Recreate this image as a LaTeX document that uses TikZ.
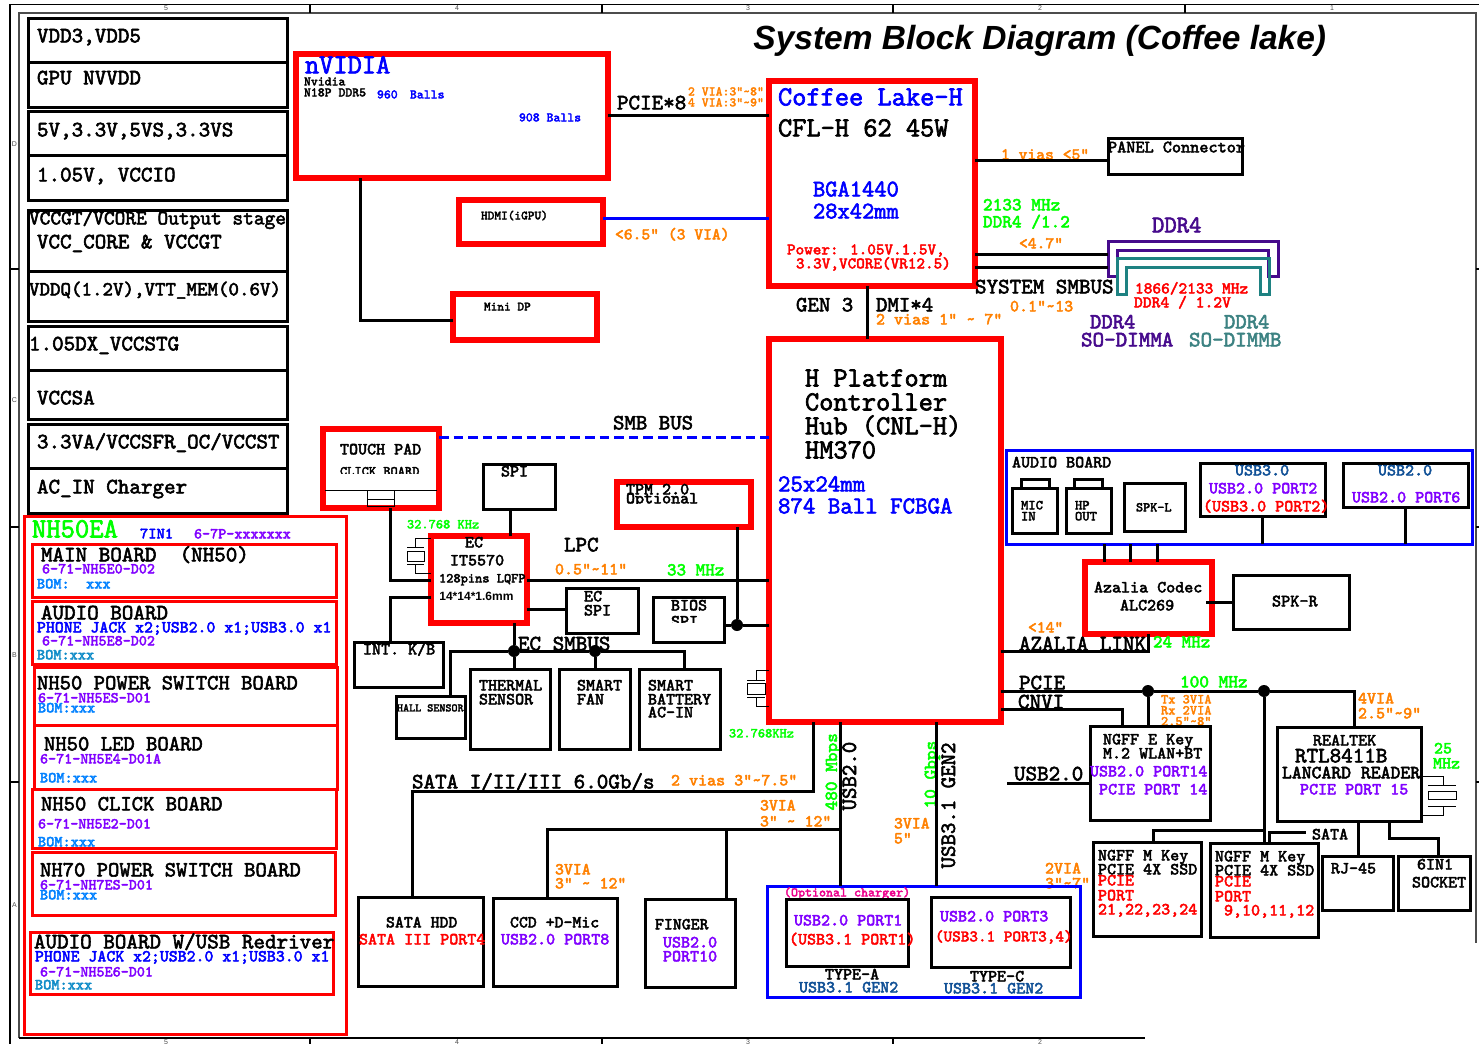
\documentclass[tikz,border=0pt]{standalone}
\usepackage{fontspec}
\setsansfont{Liberation Sans}
\newfontfamily\mb{Latin Modern Mono}[FakeBold=2.5]
\usetikzlibrary{positioning}

\definecolor{cOrange}{RGB}{255,128,0}
\definecolor{cGreen}{RGB}{0,255,0}
\definecolor{cViolet}{RGB}{128,0,255}
\definecolor{cSky}{RGB}{0,128,255}
\definecolor{cBom}{RGB}{16,140,200}
\definecolor{cNavy}{RGB}{16,80,150}
\definecolor{cPurple}{RGB}{70,10,140}
\definecolor{cTeal}{RGB}{30,130,130}
\definecolor{cSoft}{RGB}{60,130,130}

\tikzset{
  lb/.style={anchor=base west,inner sep=0pt,outer sep=0pt,yshift=-0.2pt,font=\mb\fontsize{#1}{#1}\selectfont},
  vlb/.style={lb=#1,rotate=90},
  bx/.style={draw,line width=1.5pt,inner sep=0pt,outer sep=0pt},
  rthick/.style={draw=red,line width=2.8pt,inner sep=0pt,outer sep=0pt},
  rthin/.style={draw=red,line width=1.5pt,inner sep=0pt,outer sep=0pt},
  bgroup/.style={draw=blue,line width=1.5pt,inner sep=0pt,outer sep=0pt},
  wire/.style={line width=1.5pt},
  thinw/.style={line width=0.5pt},
  dot/.style={circle,fill,inner sep=0pt,minimum size=6pt},
}
\newcommand{\blk}[6]{\node[#1,minimum width={(#5-#3)*0.5pt},minimum height={(#6-#4)*0.5pt}] (#2) at ({(#3+#5)/2},{(#4+#6)/2}) {};}
\newcommand{\tld}{\textasciitilde}

\begin{document}
\begin{tikzpicture}[x=0.5pt,y=-0.5pt]
\useasboundingbox (0,0) rectangle (1479,1044);

% frame
\draw[line width=0.6pt] (1479,4.5) -- (10,4.5) -- (10,1044);
\draw[line width=0.6pt,black!70] (19,1038) -- (19,13) -- (1476,13) -- (1476,943);
\draw[line width=0.6pt] (19,1038) -- (1145,1038);
\foreach \x in {310,602,893,1185} \draw[line width=0.6pt] (\x,4.5) -- (\x,13);
\foreach \x in {310,602,893} \draw[line width=0.6pt] (\x,1038) -- (\x,1044);
\foreach \y in {269,527,782} \draw[line width=0.6pt] (10,\y) -- (19,\y) (1476,\y) -- (1479,\y);
\foreach \x/\t in {166/5,457/4,748/3,1040/2,1332/1} \node[font=\sffamily\fontsize{3.5}{3.5}\selectfont,black!70] (top\t) at (\x,8.5) {\t};
\foreach \x/\t in {166/5,457/4,748/3,1040/2} \node[font=\sffamily\fontsize{3.5}{3.5}\selectfont,black!70] (bot\t) at (\x,1042) {\t};
\foreach \y/\t in {144/D,400/C,655/B,905/A} \node[font=\sffamily\fontsize{3.5}{3.5}\selectfont,black!70] (side\t) at (14.5,\y) {\t};

% title
\node[anchor=base west,inner sep=0pt,font=\sffamily\bfseries\itshape\fontsize{16.75}{16.75}\selectfont] (title) at (753,49) {System Block Diagram (Coffee lake)};

% power rails
\blk{bx}{pw1}{28}{18}{287}{62}
\blk{bx}{pw2}{28}{62}{287}{107}
\blk{bx}{pw3}{28}{111}{287}{155}
\blk{bx}{pw4}{28}{155}{287}{200}
\blk{bx}{pw5}{28}{210}{287}{271}
\blk{bx}{pw6}{28}{271}{287}{321}
\blk{bx}{pw7}{28}{326}{287}{370}
\blk{bx}{pw8}{28}{370}{287}{419}
\blk{bx}{pw9}{28}{424}{287}{468}
\blk{bx}{pw10}{28}{468}{287}{513}
\node[lb=11] (tpw1) at (37,42) {VDD3,VDD5};
\node[lb=11] (tpw2) at (37,84) {GPU NVVDD};
\node[lb=11] (tpw3) at (37,136) {5V,3.3V,5VS,3.3VS};
\node[lb=11] (tpw4) at (37,181) {1.05V, VCCIO};
\node[lb=10.2] (tpw5a) at (29,224) {VCCGT/VCORE Output stage};
\node[lb=11] (tpw5b) at (37,248) {VCC\_CORE \& VCCGT};
\node[lb=10] (tpw6) at (29,295) {VDDQ(1.2V),VTT\_MEM(0.6V)};
\node[lb=11] (tpw7) at (29,350) {1.05DX\_VCCSTG};
\node[lb=11] (tpw8) at (37,404) {VCCSA};
\node[lb=11] (tpw9) at (37,448) {3.3VA/VCCSFR\_OC/VCCST};
\node[lb=11] (tpw10) at (37,493) {AC\_IN Charger};

% board list
\blk{rthin}{brds}{24}{516}{346}{1034}
\blk{rthin}{brd1}{32}{544}{336}{597}
\blk{rthin}{brd2}{32}{601}{336}{664}
\blk{rthin}{brd3}{34}{667}{337}{725}
\blk{rthin}{brd4}{34}{725}{337}{789}
\blk{rthin}{brd5}{32}{789}{336}{848}
\blk{rthin}{brd6}{32}{852}{335}{915}
\blk{rthin}{brd7}{30}{932}{333}{994}
\node[lb=13.9,cGreen] (tbrds) at (32,537) {NH50EA};
\node[lb=7.8,blue] (tin) at (140,538) {7IN1};
\node[lb=7.6,cViolet] (tpn) at (194,538) {6-7P-xxxxxxx};
\node[lb=11] (tb1) at (41,561) {MAIN BOARD\ \ (NH50)};
\node[lb=7.6,cViolet] (tb1p) at (42,573) {6-71-NH5E0-D02};
\node[lb=7.7,cSky] (tb1m) at (37,588) {BOM:\ \ xxx};
\node[lb=11] (tb2) at (41,619) {AUDIO BOARD};
\node[lb=8.4,blue] (tb2j) at (37,632) {PHONE JACK x2;USB2.0 x1;USB3.0 x1};
\node[lb=7.6,cViolet] (tb2p) at (42,645) {6-71-NH5E8-D02};
\node[lb=7.7,cBom] (tb2m) at (37,659) {BOM:xxx};
\node[lb=10.8] (tb3) at (37,689) {NH50 POWER SWITCH BOARD};
\node[lb=7.6,cViolet] (tb3p) at (38,702) {6-71-NH5ES-D01};
\node[lb=7.7,cSky] (tb3m) at (38,712) {BOM:xxx};
\node[lb=10.8] (tb4) at (44,750) {NH50 LED BOARD};
\node[lb=7.6,cViolet] (tb4p) at (40,763) {6-71-NH5E4-D01A};
\node[lb=7.7,cSky] (tb4m) at (40,782) {BOM:xxx};
\node[lb=10.8] (tb5) at (41,810) {NH50 CLICK BOARD};
\node[lb=7.6,cViolet] (tb5p) at (38,828) {6-71-NH5E2-D01};
\node[lb=7.7,cSky] (tb5m) at (38,846) {BOM:xxx};
\node[lb=10.8] (tb6) at (40,876) {NH70 POWER SWITCH BOARD};
\node[lb=7.6,cViolet] (tb6p) at (40,889) {6-71-NH7ES-D01};
\node[lb=7.7,cSky] (tb6m) at (40,899) {BOM:xxx};
\node[lb=11] (tb7) at (34,948) {AUDIO BOARD W/USB Redriver};
\node[lb=8.4,blue] (tb7j) at (35,961) {PHONE JACK x2;USB2.0 x1;USB3.0 x1};
\node[lb=7.6,cViolet] (tb7p) at (40,976) {6-71-NH5E6-D01};
\node[lb=7.7,cBom] (tb7m) at (35,989) {BOM:xxx};

% gpu and displays
\blk{rthick}{nv}{296}{54}{608}{178}
\blk{rthick}{hdmi}{459}{200}{603}{244}
\blk{rthick}{mdp}{453}{294}{597}{340}
\node[lb=13.8,blue] (tnv) at (305,73) {nVIDIA};
\node[lb=6.5] (tnva) at (304,85) {Nvidia};
\node[lb=6.5] (tnvb) at (304,96) {N18P DDR5};
\node[lb=6.5,blue] (tnvc) at (377,98) {960};
\node[lb=6.5,blue] (tnvd) at (410,98) {Balls};
\node[lb=6.5,blue] (tnve) at (519,121) {908 Balls};
\node[lb=6.3] (thdmi) at (481,219) {HDMI(iGPU)};
\node[lb=6.3] (tmdp) at (484,310) {Mini DP};
\node[lb=11] (tpcie8) at (617,109) {PCIE*8};
\node[lb=6.5,cOrange] (tvia1) at (688,95) {2 VIA:3"\tld8"};
\node[lb=6.5,cOrange] (tvia2) at (688,106) {4 VIA:3"\tld9"};
\node[lb=8.3,cOrange] (tvia3) at (615,239) {<6.5" (3 VIA)};

% cpu
\blk{rthick}{cfl}{769}{81}{975}{286}
\node[lb=13.8,blue] (tcfla) at (778,105) {Coffee Lake-H};
\node[lb=13.8] (tcflb) at (778,136) {CFL-H 62 45W};
\node[lb=11.9,blue] (tcflc) at (813,196) {BGA1440};
\node[lb=11.9,blue] (tcfld) at (813,218) {28x42mm};
\node[lb=8.1,red] (tcfle) at (787,254) {Power: 1.05V.1.5V,};
\node[lb=8.1,red] (tcflf) at (796,268) {3.3V,VCORE(VR12.5)};
\node[lb=10.9] (tgen) at (796,311) {GEN 3};
\node[lb=10.9] (tdmi) at (876,311) {DMI*4};
\node[lb=8.5,cOrange] (tvia4) at (876,324) {2 vias 1" \tld{} 7"};

% pch
\blk{rthick}{pch}{769}{339}{1001}{722}
\node[lb=13.8] (tpcha) at (805,386) {H Platform};
\node[lb=13.8] (tpchb) at (805,410) {Controller};
\node[lb=13.8] (tpchc) at (805,434) {Hub (CNL-H)};
\node[lb=13.8] (tpchd) at (805,458) {HM370};
\node[lb=12.1,blue] (tpche) at (778,491) {25x24mm};
\node[lb=12.1,blue] (tpchf) at (778,513) {874 Ball FCBGA};

% memory
\blk{bx}{pnl}{1108}{138}{1242}{174}
\node[lb=8.7] (tpnl) at (1108,152) {PANEL Connector};
\node[lb=8.3,cOrange] (tvia5) at (1001,159) {1 vias <5"};
\node[lb=9.2,cGreen] (tmem1) at (983,210) {2133 MHz};
\node[lb=9.2,cGreen] (tmem2) at (983,227) {DDR4 /1.2};
\node[lb=8.3,cOrange] (tvia6) at (1019,248) {<4.7"};
\node[lb=11] (tsmb) at (975,293) {SYSTEM SMBUS};
\node[lb=8.5,cOrange] (tvia7) at (1010,311) {0.1"\tld13};
\draw[cPurple,line width=1.5pt] (1108,276) -- (1108,241) -- (1278,241) -- (1278,276) -- (1268,276) -- (1268,250) -- (1117,250) -- (1117,276) -- cycle;
\draw[cTeal,line width=1.5pt] (1117,294) -- (1117,258) -- (1269,258) -- (1269,294) -- (1260,294) -- (1260,267) -- (1126,267) -- (1126,294) -- cycle;
\coordinate (dimtop) at (1108,254);
\coordinate (dimbot) at (1108,267);
\node[lb=12,cPurple] (tddr) at (1152,232) {DDR4};
\node[lb=8.2,red] (tddra) at (1135,293) {1866/2133 MHz};
\node[lb=8.3,red] (tddrb) at (1134,307) {DDR4 / 1.2V};
\node[lb=10.8,cPurple] (tdima) at (1090,328) {DDR4};
\node[lb=11,cPurple] (tdimb) at (1081,346) {SO-DIMMA};
\node[lb=10.8,cSoft] (tdimc) at (1224,328) {DDR4};
\node[lb=11,cSoft] (tdimd) at (1189,346) {SO-DIMMB};

% touch pad
\blk{rthick}{tp}{323}{429}{439}{508}
\node[lb=8.5] (ttpa) at (340,454) {TOUCH PAD};
\scope
\clip (330,460) rectangle (430,473);
\node[lb=6.8] (ttpb) at (340,475) {CLICK BOARD};
\endscope
\draw[thinw] (325,490) -- (437,490);
\draw[thinw] (367,490) rectangle (394,506);
\draw[thinw] (367,499) -- (394,499);
\node[lb=10.9] (tsmbb) at (613,429) {SMB BUS};

% ec
\blk{bx}{spi}{483}{464}{555}{509}
\node[lb=8.5] (tspi) at (501,476) {SPI};
\blk{rthick}{tpm}{617}{482}{751}{527}
\node[lb=8.5] (ttpma) at (626,494) {TPM 2.0};
\scope
\clip (620,490) rectangle (745,503);
\node[lb=8.5] (ttpmb) at (626,503) {Optional};
\endscope
\blk{rthick}{ec}{431}{536}{527}{623}
\node[lb=6.8,cGreen] (tkhz) at (407,528) {32.768 KHz};
\node[lb=8.5] (teca) at (465,547) {EC};
\node[lb=8.5] (tecb) at (450,565) {IT5570};
\node[lb=6.8] (tecc) at (439,582) {128pins LQFP};
\node[anchor=base west,inner sep=0pt,font=\sffamily\bfseries\fontsize{6}{6}\selectfont] (tecd) at (439,600) {14*14*1.6mm};
\node[lb=11] (tlpc) at (564,551) {LPC};
\node[lb=8.5,cOrange] (tvia8) at (555,574) {0.5"\tld11"};
\node[lb=9.1,cGreen] (tmhz) at (667,575) {33 MHz};
\blk{bx}{kb}{354}{642}{443}{687}
\node[lb=8.6] (tkb) at (363,654) {INT. K/B};
\blk{bx}{ecspi}{566}{588}{638}{633}
\node[lb=8.5] (tesa) at (584,601) {EC};
\node[lb=8.5] (tesb) at (584,615) {SPI};
\blk{bx}{bios}{653}{597}{724}{642}
\node[lb=8.5] (tbioa) at (671,610) {BIOS};
\scope
\clip (660,612) rectangle (715,622);
\node[lb=8.5] (tbiob) at (671,626) {SPI};
\endscope
\node[lb=11] (tecs) at (518,650) {EC SMBUS};
\blk{bx}{hall}{396}{696}{465}{738}
\node[lb=5.7] (thall) at (397,711) {HALL SENSOR};
\blk{bx}{thm}{470}{669}{550}{749}
\node[lb=8.5] (ttha) at (479,690) {THERMAL};
\node[lb=8.5] (tthb) at (479,704) {SENSOR};
\blk{bx}{fan}{559}{669}{630}{749}
\node[lb=8.5] (tfaa) at (577,690) {SMART};
\node[lb=8.5] (tfab) at (577,704) {FAN};
\blk{bx}{bat}{639}{669}{720}{749}
\node[lb=8.5] (tbaa) at (648,690) {SMART};
\node[lb=8.5] (tbab) at (648,704) {BATTERY};
\node[lb=8.5] (tbac) at (648,717) {AC-IN};
\node[lb=6.8,cGreen] (tkhzb) at (729,737) {32.768KHz};

% storage and usb
\node[lb=11] (tsata) at (412,788) {SATA I/II/III 6.0Gb/s};
\node[lb=8.5,cOrange] (tvia9) at (671,785) {2 vias 3"\tld7.5"};
\node[vlb=10.9] (tusb) at (856,810) {USB2.0};
\node[vlb=9.2,cGreen] (tmbp) at (837,810) {480 Mbps};
\node[vlb=10.9] (tusc) at (955,868) {USB3.1 GEN2};
\node[vlb=9.2,cGreen] (tgbp) at (936,808) {10 Gbps};
\node[lb=8.4,cOrange] (tvia10) at (760,810) {3VIA};
\node[lb=8.4,cOrange] (tvia11) at (760,826) {3" \tld{} 12"};
\node[lb=8.4,cOrange] (tvia12) at (555,874) {3VIA};
\node[lb=8.4,cOrange] (tvia13) at (555,888) {3" \tld{} 12"};
\node[lb=8.4,cOrange] (tvia14) at (894,828) {3VIA};
\node[lb=8.4,cOrange] (tvia15) at (894,843) {5"};
\node[lb=8.5,cOrange] (tvia16) at (1045,873) {2VIA};
\node[lb=8.5,cOrange] (tvia17) at (1045,888) {3"\tld7"};
\blk{bx}{hdd}{358}{897}{483}{986}
\node[lb=8.4] (thda) at (386,927) {SATA HDD};
\node[lb=8.5,red] (thdb) at (359,944) {SATA III PORT4};
\blk{bx}{ccd}{493}{898}{617}{986}
\node[lb=8.4] (tcca) at (510,927) {CCD +D-Mic};
\node[lb=8.5,cViolet] (tccb) at (501,944) {USB2.0 PORT8};
\blk{bx}{fng}{645}{899}{735}{987}
\node[lb=8.4] (tfna) at (655,929) {FINGER};
\node[lb=8.5,cViolet] (tfnb) at (663,947) {USB2.0};
\node[lb=8.5,cViolet] (tfnc) at (663,961) {PORT10};
\blk{bgroup}{usbg}{767}{886}{1080}{997}
\node[lb=6.6,magenta] (tchg) at (784,896) {(Optional charger)};
\blk{bx}{tya}{786}{899}{908}{966}
\node[lb=8.5,cViolet] (ttaa) at (794,925) {USB2.0 PORT1};
\node[lb=8.5,red] (ttab) at (789,944) {(USB3.1 PORT1)};
\node[lb=8.5] (ttac) at (825,979) {TYPE-A};
\node[lb=8.5,cNavy] (ttad) at (799,992) {USB3.1 GEN2};
\blk{bx}{tyc}{931}{897}{1070}{967}
\node[lb=8.5,cViolet] (ttca) at (940,921) {USB2.0 PORT3};
\node[lb=8.1,red] (ttcb) at (935,941) {(USB3.1 PORT3,4)};
\node[lb=8.5] (ttcc) at (970,981) {TYPE-C};
\node[lb=8.5,cNavy] (ttcd) at (944,993) {USB3.1 GEN2};

% audio board
\blk{bgroup}{aud}{1006}{450}{1472}{544}
\node[lb=8.5] (taud) at (1012,467) {AUDIO BOARD};
\blk{bx}{mic}{1012}{488}{1057}{533}
\blk{bx}{mict}{1021}{479}{1049}{488}
\node[lb=6.9] (tmica) at (1021,509) {MIC};
\node[lb=6.9] (tmicb) at (1021,520) {IN};
\blk{bx}{hp}{1066}{488}{1111}{533}
\blk{bx}{hpt}{1074}{479}{1102}{488}
\node[lb=6.9] (thpa) at (1075,509) {HP};
\node[lb=6.9] (thpb) at (1075,520) {OUT};
\blk{bx}{spkl}{1124}{483}{1185}{531}
\node[lb=6.7] (tspkl) at (1136,511) {SPK-L};
\blk{bx}{us3}{1200}{463}{1325}{516}
\node[lb=8.5,cNavy] (tusa) at (1235,475) {USB3.0};
\node[lb=8.5,cViolet] (tusb3) at (1209,493) {USB2.0 PORT2};
\node[lb=8.5,red] (tusd) at (1203,511) {(USB3.0 PORT2)};
\blk{bx}{us2}{1343}{463}{1468}{507}
\node[lb=8.5,cNavy] (tuse) at (1378,475) {USB2.0};
\node[lb=8.5,cViolet] (tusf) at (1352,502) {USB2.0 PORT6};
\blk{rthick}{azl}{1085}{562}{1212}{634}
\node[lb=8.5] (taza) at (1094,592) {Azalia Codec};
\node[lb=8.5] (tazb) at (1120,610) {ALC269};
\blk{bx}{spkr}{1233}{575}{1349}{629}
\node[lb=8.7] (tspkr) at (1272,606) {SPK-R};
\node[lb=8.3,cOrange] (tvia18) at (1028,632) {<14"};
\node[lb=11] (tazl) at (1019,650) {AZALIA LINK};
\node[lb=9.1,cGreen] (tmhzb) at (1153,647) {24 MHz};

% pcie side
\node[lb=11] (tpcie) at (1019,689) {PCIE};
\node[lb=11] (tcnvi) at (1018,708) {CNVI};
\node[lb=9.2,cGreen] (tmhzc) at (1180,687) {100 MHz};
\node[lb=6.8,cOrange] (tvia19) at (1161,703) {Tx 3VIA};
\node[lb=6.8,cOrange] (tvia20) at (1161,714) {Rx 2VIA};
\node[lb=6.8,cOrange] (tvia21) at (1161,725) {2.5"\tld8"};
\node[lb=8.5,cOrange] (tvia22) at (1358,703) {4VIA};
\node[lb=8.5,cOrange] (tvia23) at (1358,718) {2.5"\tld9"};
\blk{bx}{wlan}{1090}{726}{1210}{820}
\node[lb=8.5] (twla) at (1103,744) {NGFF E Key};
\node[lb=8.5] (twlb) at (1103,758) {M.2 WLAN+BT};
\node[lb=8.5,cViolet] (twlc) at (1090,776) {USB2.0 PORT14};
\node[lb=8.5,cViolet] (twld) at (1099,794) {PCIE PORT 14};
\node[lb=11] (tusbw) at (1014,780) {USB2.0};
\blk{bx}{lan}{1277}{727}{1421}{821}
\node[lb=8.5] (tlna) at (1313,745) {REALTEK};
\node[lb=11] (tlnb) at (1295,762) {RTL8411B};
\node[lb=9.4] (tlnc) at (1282,778) {LANCARD READER};
\node[lb=8.5,cViolet] (tlnd) at (1300,794) {PCIE PORT 15};
\node[lb=8.5,cGreen] (tlne) at (1434,753) {25};
\node[lb=8.5,cGreen] (tlnf) at (1433,768) {MHz};
\blk{bx}{ssd1}{1093}{842}{1201}{936}
\node[lb=8.5] (tsa) at (1098,860) {NGFF M Key};
\node[lb=8.5] (tsb) at (1098,874) {PCIE 4X SSD};
\node[lb=8.5,red] (tsc) at (1098,885) {PCIE};
\node[lb=8.5,red] (tsd) at (1098,900) {PORT};
\node[lb=8.5,red] (tse) at (1098,914) {21,22,23,24};
\blk{bx}{ssd2}{1210}{843}{1318}{937}
\node[lb=8.5] (tsf) at (1215,861) {NGFF M Key};
\node[lb=8.5] (tsg) at (1215,875) {PCIE 4X SSD};
\node[lb=8.5,red] (tsh) at (1215,886) {PCIE};
\node[lb=8.5,red] (tsi) at (1215,901) {PORT};
\node[lb=8.5,red] (tsj) at (1224,915) {9,10,11,12};
\node[lb=8.5] (tsatb) at (1312,839) {SATA};
\blk{bx}{rj}{1322}{856}{1393}{910}
\node[lb=8.5] (trj) at (1331,873) {RJ-45};
\blk{bx}{skt}{1398}{856}{1470}{910}
\node[lb=8.5] (tska) at (1417,869) {6IN1};
\node[lb=8.5] (tskb) at (1412,887) {SOCKET};

% junctions and free ends
\node[dot] (jec1) at (514,651) {};
\node[dot] (jec2) at (595,651) {};
\node[dot] (jbio) at (737,625) {};
\node[dot] (jpc1) at (1148,691) {};
\node[dot] (jpc2) at (1264,691) {};
\coordinate (sataend) at (1306,832);
\coordinate (usbend) at (1007,783);
\coordinate (azlbend) at (1148,651);
\coordinate (satar) at (813,791);
\coordinate (satal) at (412,791);
\coordinate (usbr) at (840,829);
\coordinate (usbl) at (547,829);
\coordinate (usbm) at (726,829);
\coordinate (ssdr) at (1264,830);
\coordinate (ssdl) at (1153,830);
\coordinate (sktl) at (1389,838);
\coordinate (sktr) at (1438,838);

% connectors
\draw[wire] (nv.east |- 0,115) -- (cfl.west |- 0,115);
\draw[wire,blue] (hdmi.east |- 0,218) -- (cfl.west |- 0,218);
\draw[wire] (nv.south -| 360,0) |- (mdp.west |- 0,320);
\draw[wire] (cfl.south -| 867,0) -- (pch.north -| 867,0);
\draw[wire] (cfl.east |- 0,160) -- (pnl.west |- 0,160);
\draw[wire] (cfl.east |- dimtop) -- (dimtop);
\draw[wire] (cfl.east |- dimbot) -- (dimbot);
\draw[wire,blue,dash pattern=on 4.8pt off 2.5pt] (tp.east |- 0,437) -- (pch.west |- 0,437);
\draw[wire] (tp.south -| 390,0) |- (ec.west |- 0,580);
\draw[wire] (spi.south -| 510,0) -- (ec.north -| 510,0);
\draw[wire] (ec.east |- 0,580) -- (pch.west |- 0,580);
\draw[wire] (ec.west |- 0,597) -| (kb.north -| 390,0);
\draw[wire] (ec.east |- 0,609) -- (ecspi.west |- 0,609);
\draw[wire] (bios.east |- jbio) -- (jbio) -- (pch.west |- jbio);
\draw[wire] (tpm.south -| jbio) -- (jbio);
\draw[wire] (ec.south -| jec1) -- (jec1) -- (thm.north -| jec1);
\draw[wire] (hall.north -| 450,0) |- (jec1) -- (jec2) -| (bat.north -| 684,0);
\draw[wire] (jec2) -- (fan.north -| jec2);
\draw[wire] (pch.south -| satar) -- (satar) -- (satal) -- (hdd.north -| satal);
\draw[wire] (pch.south -| usbr) -- (usbg.north -| usbr);
\draw[wire] (usbr) -- (usbl) -- (ccd.north -| usbl);
\draw[wire] (usbm) -- (fng.north -| usbm);
\draw[wire] (pch.south -| 936,0) -- (usbg.north -| 936,0);
\draw[wire] (aud.south -| 1104,0) -- (azl.north -| 1104,0);
\draw[wire] (aud.south -| 1130,0) -- (azl.north -| 1130,0);
\draw[wire] (aud.south -| 1157,0) -- (azl.north -| 1157,0);
\draw[wire] (us3.south -| 1262,0) -- (aud.south -| 1262,0);
\draw[wire] (us2.south -| 1405,0) -- (aud.south -| 1405,0);
\draw[wire] (azl.east |- 0,602) ++(-6,0) -- (spkr.west |- 0,602);
\draw[wire] (pch.east |- azlbend) -- (azlbend) -- (azl.south -| azlbend);
\draw[wire] (pch.east |- jpc1) -- (jpc1) -- (jpc2) -| (lan.north -| 1354,0);
\draw[wire] (pch.east |- 0,709) -| (wlan.north -| 1122,0);
\draw[wire] (jpc1) -- (wlan.north -| jpc1);
\draw[wire] (usbend) -- (wlan.west |- usbend);
\draw[wire] (jpc2) -- (ssd2.north -| jpc2);
\draw[wire] (ssdr) -- (ssdl) -- (ssd1.north -| ssdl);
\draw[wire] (ssd2.north -| 1269,0) |- (sataend);
\draw[wire] (lan.south -| 1358,0) -- (rj.north -| 1358,0);
\draw[wire] (lan.south -| sktl) -- (sktl) -- (sktr) -- (skt.north -| sktr);

% crystals
\draw[thinw] (ec.west |- 0,538) -- (415,538) -- (415,547) (407,547) -- (424,547);
\draw[thinw] (407,551) rectangle (424,561);
\draw[thinw] (ec.west |- 0,573) -- (415,573) -- (415,564) (407,564) -- (424,564);
\draw[thinw] (pch.west |- 0,670) -- (756,670) -- (756,680) (747,680) -- (765,680);
\draw[thinw] (747,683) rectangle (765,694);
\draw[thinw] (pch.west |- 0,706) -- (756,706) -- (756,697) (747,697) -- (765,697);
\draw[thinw] (lan.east |- 0,776) -- (1443,776) -- (1443,785) (1428,785) -- (1456,785);
\draw[thinw] (1428,791) rectangle (1456,799);
\draw[thinw] (lan.east |- 0,815) -- (1443,815) -- (1443,806) (1428,806) -- (1456,806);

\end{tikzpicture}
\end{document}
